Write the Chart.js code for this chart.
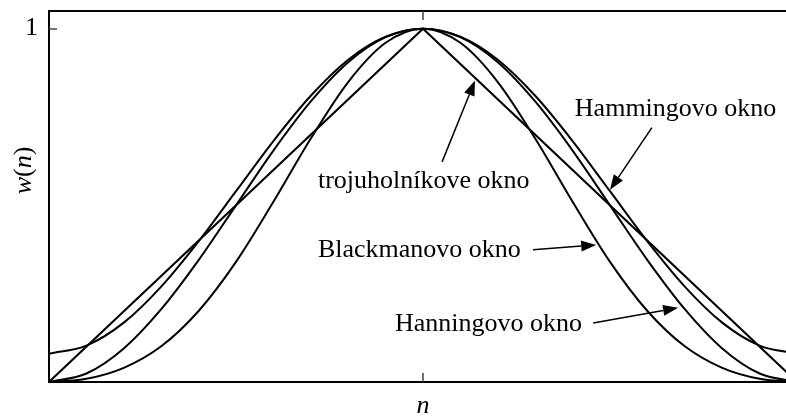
<!DOCTYPE html>
<html>
<head>
<meta charset="utf-8">
<script src="https://cdn.jsdelivr.net/npm/chart.js@4/dist/chart.umd.min.js"></script>
<style>
  html, body { margin: 0; padding: 0; background: #fff; overflow: hidden; }
  #wrap { width: 800px; height: 416px; }
</style>
</head>
<body>
<div id="wrap"><canvas id="windows" width="800" height="416"></canvas></div>
<script>
// sample index across the window length (0..20)
const sampleN = [0, 1, 2, 3, 4, 5, 6, 7, 8, 9, 10, 11, 12, 13, 14, 15, 16, 17, 18, 19, 20];
const hamming = [0.08, 0.103, 0.168, 0.270, 0.398, 0.54, 0.682, 0.810, 0.912, 0.977, 1,
                 0.977, 0.912, 0.810, 0.682, 0.54, 0.398, 0.270, 0.168, 0.103, 0.08];
const hanning = [0, 0.024, 0.095, 0.206, 0.345, 0.5, 0.655, 0.794, 0.905, 0.976, 1,
                 0.976, 0.905, 0.794, 0.655, 0.5, 0.345, 0.206, 0.095, 0.024, 0];
const blackman = [0, 0.009, 0.040, 0.101, 0.201, 0.34, 0.510, 0.689, 0.849, 0.960, 1,
                  0.960, 0.849, 0.689, 0.510, 0.34, 0.201, 0.101, 0.040, 0.009, 0];
const triangleN = [0, 10, 20];
const triangle = [0, 1, 0];

const yTicks = [1];
const xTicks = [10];

const FONT = '"Liberation Serif", "Times New Roman", serif';

function points(xs, ys) {
  return xs.map((x, i) => ({ x: x, y: ys[i] }));
}

function curve(label, data, smooth) {
  return {
    label: label,
    data: data,
    borderColor: "#000",
    borderWidth: 2,
    pointRadius: 0,
    fill: false,
    tension: 0,
    cubicInterpolationMode: smooth ? "monotone" : "default",
  };
}

// callouts in data units: text anchor, arrow tail, arrow tip
const callouts = [
  { text: "trojuholníkove okno", at: [7.19, 0.569], from: [10.51, 0.623], to: [11.39, 0.853] },
  { text: "Hammingovo okno", at: [14.06, 0.773], from: [16.12, 0.720], to: [15.0, 0.544] },
  { text: "Blackmanovo okno", at: [7.19, 0.374], from: [12.94, 0.374], to: [14.63, 0.388] },
  { text: "Hanningovo okno", at: [9.25, 0.164], from: [14.55, 0.167], to: [16.82, 0.210] },
];

function arrow(ctx, x0, y0, x1, y1) {
  const a = Math.atan2(y1 - y0, x1 - x0);
  const len = 15, half = 5.5;
  const bx = x1 - len * Math.cos(a), by = y1 - len * Math.sin(a);
  ctx.beginPath();
  ctx.moveTo(x0, y0);
  ctx.lineTo(bx, by);
  ctx.stroke();
  ctx.beginPath();
  ctx.moveTo(x1, y1);
  ctx.lineTo(bx + half * Math.sin(a), by - half * Math.cos(a));
  ctx.lineTo(bx - half * Math.sin(a), by + half * Math.cos(a));
  ctx.closePath();
  ctx.fill();
}

const decorations = {
  id: "decorations",
  afterDraw(chart) {
    const { ctx, chartArea: area, scales } = chart;
    const xs = scales.x, ys = scales.y;
    ctx.save();

    // top edge of the frame
    ctx.strokeStyle = "#000";
    ctx.lineWidth = 2;
    ctx.beginPath();
    ctx.moveTo(area.left, area.top);
    ctx.lineTo(area.right, area.top);
    ctx.stroke();

    // inward tick marks
    ctx.strokeStyle = "#444";
    ctx.lineWidth = 1.5;
    yTicks.forEach((v) => {
      const y = Math.round(ys.getPixelForValue(v));
      ctx.beginPath();
      ctx.moveTo(area.left, y);
      ctx.lineTo(area.left + 8, y);
      ctx.stroke();
    });
    xTicks.forEach((v) => {
      const x = Math.round(xs.getPixelForValue(v));
      ctx.beginPath();
      ctx.moveTo(x, area.top);
      ctx.lineTo(x, area.top + 9);
      ctx.moveTo(x, area.bottom);
      ctx.lineTo(x, area.bottom - 9);
      ctx.stroke();
    });

    // axis labels
    ctx.fillStyle = "#000";
    ctx.textBaseline = "alphabetic";
    ctx.textAlign = "center";
    ctx.font = "italic 26px " + FONT;
    ctx.fillText("n", xs.getPixelForValue(10), 413);

    ctx.save();
    ctx.translate(31, (area.top + area.bottom) / 2 - 26);
    ctx.rotate(-Math.PI / 2);
    const parts = [["w", "italic"], ["(", "normal"], ["n", "italic"], [")", "normal"]];
    let total = 0;
    parts.forEach((p) => {
      ctx.font = p[1] + " 26px " + FONT;
      total += ctx.measureText(p[0]).width;
    });
    let cx = -total / 2;
    ctx.textAlign = "left";
    parts.forEach((p) => {
      ctx.font = p[1] + " 26px " + FONT;
      ctx.fillText(p[0], cx, 0);
      cx += ctx.measureText(p[0]).width;
    });
    ctx.restore();

    // callouts
    ctx.font = "26px " + FONT;
    ctx.textAlign = "left";
    ctx.textBaseline = "middle";
    ctx.lineWidth = 1.5;
    ctx.strokeStyle = "#000";
    callouts.forEach((c) => {
      ctx.fillText(c.text, xs.getPixelForValue(c.at[0]), ys.getPixelForValue(c.at[1]));
      arrow(ctx,
        xs.getPixelForValue(c.from[0]), ys.getPixelForValue(c.from[1]),
        xs.getPixelForValue(c.to[0]), ys.getPixelForValue(c.to[1]));
    });

    ctx.restore();
  },
};

new Chart(document.getElementById("windows"), {
  type: "line",
  data: {
    datasets: [
      curve("Hamming", points(sampleN, hamming), true),
      curve("Hanning", points(sampleN, hanning), true),
      curve("Blackman", points(sampleN, blackman), true),
      curve("trojuholníkove", points(triangleN, triangle), false),
    ],
  },
  options: {
    responsive: false,
    animation: false,
    layout: { padding: { top: 11, right: 3, left: 0, bottom: 0 } },
    plugins: { legend: { display: false }, tooltip: { enabled: false } },
    scales: {
      x: {
        type: "linear",
        min: 0,
        max: 20,
        grid: { display: false, drawTicks: false },
        border: { display: true, color: "#000", width: 2 },
        ticks: { display: false },
        afterFit: (s) => { s.height = 34; s.paddingLeft = 0; s.paddingRight = 0; },
      },
      y: {
        min: 0,
        max: 1.05,
        grid: { display: false, drawTicks: false },
        border: { display: true, color: "#000", width: 2 },
        afterBuildTicks: (s) => { s.ticks = yTicks.map((v) => ({ value: v })); },
        ticks: {
          color: "#000",
          padding: 11,
          font: { family: FONT, size: 26 },
          callback: (v) => String(v),
        },
        afterFit: (s) => { s.width = 49; s.paddingTop = 0; s.paddingBottom = 0; },
      },
    },
  },
  plugins: [decorations],
});
</script>
</body>
</html>
